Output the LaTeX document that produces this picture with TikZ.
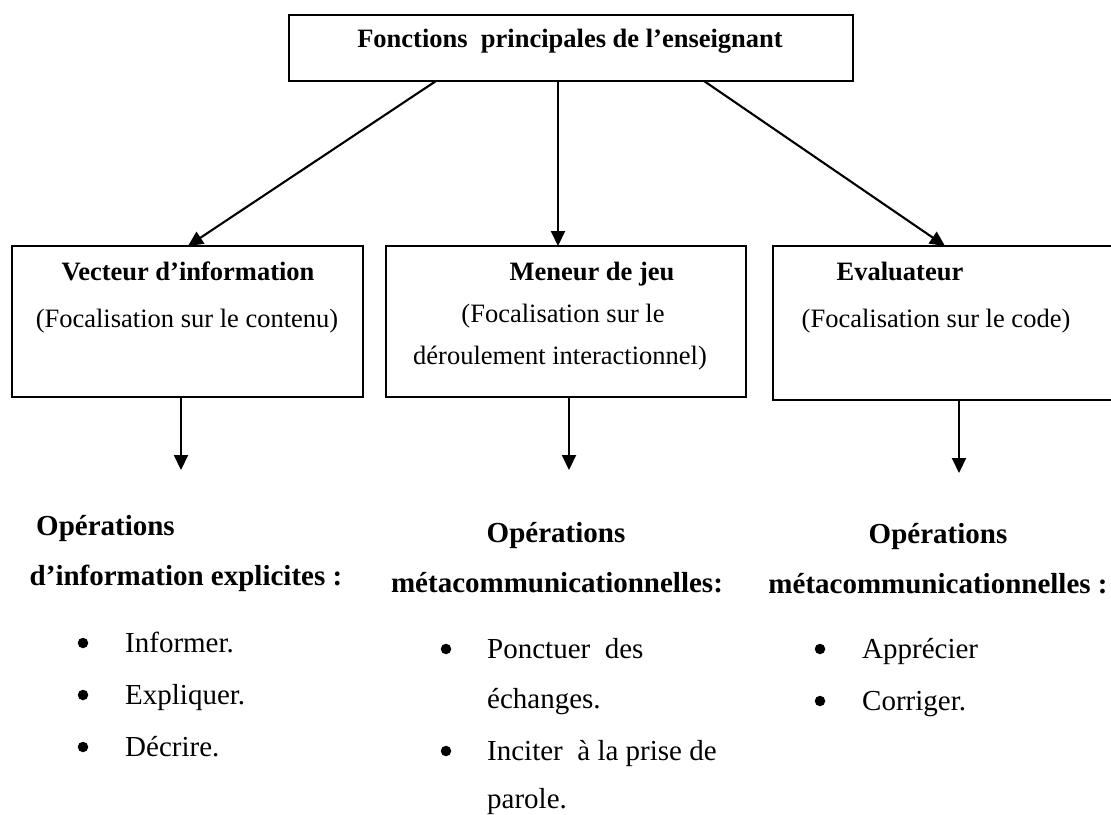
\documentclass[tikz,border=0pt]{standalone}
\usepackage{fontspec}
\setmainfont{Liberation Serif}
\usetikzlibrary{arrows.meta}
\tikzset{
  box/.style={draw, line width=2.2pt, rectangle, inner sep=0pt, outer sep=0pt, anchor=north west},
  arr/.style={line width=2.1pt, -{Triangle[length=15pt,width=14pt]}},
  boxtxt/.style={anchor=base, inner sep=0pt, font=\fontsize{26.5}{30}\selectfont},
  boxbold/.style={boxtxt, font=\fontsize{26.5}{30}\selectfont\bfseries},
  optxt/.style={anchor=base, inner sep=0pt, font=\fontsize{29}{33}\selectfont\bfseries},
  itemtxt/.style={anchor=base west, inner sep=0pt, font=\fontsize{29}{33}\selectfont},
  bul/.style={circle, fill, draw=none, minimum size=10.5pt, inner sep=0pt}
}
\begin{document}
\begin{tikzpicture}[x=1pt,y=-1pt]
\useasboundingbox (0,0) rectangle (1111,814);
% boxes
\node[box, minimum width=564pt, minimum height=66pt] (title) at (289,15) {};
\node[box, minimum width=351pt, minimum height=151pt] (b1) at (12,246) {};
\node[box, minimum width=360pt, minimum height=151pt] (b2) at (386,246) {};
\node[box, minimum width=347pt, minimum height=154pt] (b3) at (773,246) {};
% texts
\node[boxbold] (tt) at (570,47) {Fonctions\ \ principales de l’enseignant};
\node[boxbold] (b1a) at (188,280) {Vecteur d’information};
\node[boxtxt] (b1b) at (187,327) {(Focalisation sur le contenu)};
\node[boxbold] (b2a) at (592,280) {Meneur de jeu};
\node[boxtxt] (b2b) at (563,322) {(Focalisation sur le};
\node[boxtxt] (b2c) at (560,364) {déroulement interactionnel)};
\node[boxbold] (b3a) at (900,280) {Evaluateur};
\node[boxtxt] (b3b) at (936,327) {(Focalisation sur le code)};
% connector points
\coordinate (s1) at (436,81);
\coordinate (s2) at (558,81);
\coordinate (s3) at (704,81);
\coordinate (e1) at (188,246);
\coordinate (e2) at (558,246);
\coordinate (e3) at (945,246);
\draw[arr] (s1) -- (e1);
\draw[arr] (s2) -- (e2);
\draw[arr] (s3) -- (e3);
\coordinate (d1) at (181,470);
\coordinate (d2) at (569,470);
\coordinate (d3) at (959,473);
\draw[arr] (b1.south -| d1) -- (d1);
\draw[arr] (b2.south -| d2) -- (d2);
\draw[arr] (b3.south -| d3) -- (d3);
% column 1
\node[optxt, anchor=base west] (o1a) at (36,535) {Opérations};
\node[optxt] (o1b) at (186,585) {d’information explicites :};
\node[bul] (u11) at (83,643) {};
\node[itemtxt] (i11) at (125,652) {Informer.};
\node[bul] (u12) at (83,695) {};
\node[itemtxt] (i12) at (125,704) {Expliquer.};
\node[bul] (u13) at (83,747) {};
\node[itemtxt] (i13) at (125,756) {Décrire.};
% column 2
\node[optxt] (o2a) at (556,542) {Opérations};
\node[optxt] (o2b) at (557,592) {métacommunicationnelles:};
\node[bul] (u21) at (446,649) {};
\node[itemtxt] (i21) at (487,658) {Ponctuer\ \ des};
\node[itemtxt] (i22) at (487,708) {échanges.};
\node[bul] (u23) at (446,751) {};
\node[itemtxt] (i23) at (487,760) {Inciter\ \ à la prise de};
\node[itemtxt] (i24) at (487,808) {parole.};
% column 3
\node[optxt] (o3a) at (938,543) {Opérations};
\node[optxt] (o3b) at (938,593) {métacommunicationnelles :};
\node[bul] (u31) at (820,649) {};
\node[itemtxt] (i31) at (862,658) {Apprécier};
\node[bul] (u32) at (820,701) {};
\node[itemtxt] (i32) at (862,710) {Corriger.};
\end{tikzpicture}
\end{document}
